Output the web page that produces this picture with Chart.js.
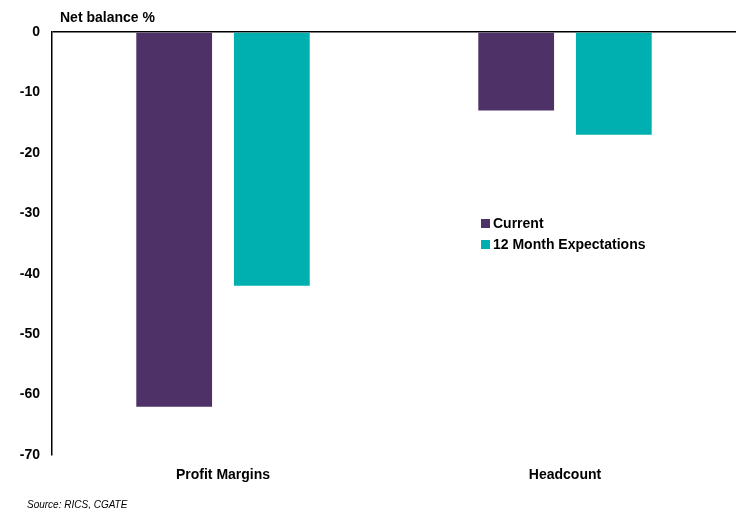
<!DOCTYPE html>
<html>
<head>
<meta charset="utf-8">
<script src="https://cdn.jsdelivr.net/npm/chart.js@4"></script>
<style>
  html, body { margin: 0; padding: 0; background: #fff; }
  #wrap { position: relative; width: 736px; height: 509px; font-family: "Liberation Sans", Arial, sans-serif; }
  #chart { position: absolute; left: 0; top: 0; }
  .title { position: absolute; left: 60px; top: 9px; font-size: 14px; font-weight: bold; color: #000; }
  .source { position: absolute; left: 27px; top: 499px; font-size: 10px; font-style: italic; color: #000; }
  #legend { position: absolute; left: 481px; top: 215px; font-size: 14px; font-weight: bold; color: #000; }
  #legend div { height: 21px; line-height: 17px; white-space: nowrap; }
  #legend span { display: inline-block; width: 9px; height: 9px; margin-right: 3px; vertical-align: 0px; }
</style>
</head>
<body>
<div id="wrap">
  <canvas id="chart" width="736" height="509"></canvas>
  <div class="title">Net balance %</div>
  <div id="legend"></div>
  <div class="source">Source: RICS, CGATE</div>
</div>
<script>
const categories = ["Profit Margins", "Headcount"];
const currentValues = [-62, -13];
const expectationValues = [-42, -17];
const seriesNames = ["Current", "12 Month Expectations"];
const seriesColors = ["#4e3167", "#00b0b0"];
const yTicks = [0, -10, -20, -30, -40, -50, -60, -70];

const font = { family: "'Liberation Sans', Arial, sans-serif", size: 14, weight: "bold" };

const datasets = [currentValues, expectationValues].map((data, i) => ({
  label: seriesNames[i],
  data,
  backgroundColor: seriesColors[i],
  borderWidth: 0,
  barPercentage: 0.776,
  categoryPercentage: 0.571,
}));

new Chart(document.getElementById("chart"), {
  type: "bar",
  data: { labels: categories, datasets },
  options: {
    responsive: false,
    animation: false,
    layout: { padding: { top: 32, right: -3, bottom: 0, left: 0 } },
    plugins: { legend: { display: false }, tooltip: { enabled: false } },
    scales: {
      x: {
        position: "bottom",
        grid: { display: false, drawTicks: false },
        border: { display: false },
        ticks: { color: "#000", font, padding: 12 },
        afterFit: (s) => { s.height = 54; },
      },
      y: {
        min: -70,
        max: 0,
        afterBuildTicks: (s) => { s.ticks = yTicks.map((v) => ({ value: v })); },
        grid: {
          drawTicks: false,
          color: (ctx) => (ctx.tick && ctx.tick.value === 0 ? "#000" : "transparent"),
          lineWidth: 1.5,
        },
        border: { display: true, color: "#000", width: 1.5 },
        ticks: { color: "#000", font, padding: 12 },
        afterFit: (s) => { s.width = 52; },
      },
    },
  },
});

document.getElementById("legend").innerHTML = seriesNames
  .map((n, i) => `<div><span style="background:${seriesColors[i]}"></span>${n}</div>`)
  .join("");
</script>
</body>
</html>
